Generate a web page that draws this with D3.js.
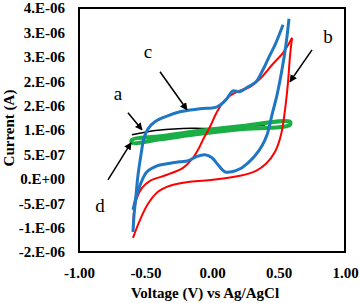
<!DOCTYPE html>
<html>
<head>
<meta charset="utf-8">
<script src="https://cdn.jsdelivr.net/npm/d3@7"></script>
<style>
  body { margin: 0; background: #fff; }
  text { font-family: "Liberation Serif", "Times New Roman", serif; }
</style>
</head>
<body>
<svg id="cv" width="359" height="303"></svg>
<script>
// current values are in microamps (1e-6 A)
const yTicks = [-1.5, -1.0, -0.5, 0, 0.5, 1.0, 1.5, 2.0, 2.5, 3.0, 3.5]
const yTickLabels = ["-2.E-06", "-1.E-06", "-5.E-07", "0.E+00", "5.E-07", "1.E-06", "2.E-06", "2.E-06", "3.E-06", "3.E-06", "4.E-06"]
const xTicks = [-1, -0.5, 0, 0.5, 1]
const xTickLabels = ["-1.00", "-0.50", "0.00", "0.50", "1.00"]

// curve c (blue) forward sweep
const cUpV = [-0.594, -0.586, -0.571, -0.556, -0.534, -0.511, -0.481, -0.429, -0.353, -0.241, -0.090, 0.038, 0.105, 0.158, 0.203, 0.271, 0.331, 0.383, 0.429, 0.474, 0.511, 0.534]
const cUpI = [-1.086, -0.738, -0.328, 0.082, 0.492, 0.840, 1.025, 1.168, 1.270, 1.373, 1.434, 1.475, 1.619, 1.803, 1.783, 1.885, 1.988, 2.234, 2.500, 2.746, 2.992, 3.156]
// curve c (blue) reverse sweep
const cDnV = [0.579, 0.556, 0.526, 0.489, 0.451, 0.414, 0.376, 0.323, 0.271, 0.211, 0.150, 0.098, 0.045, 0.000, -0.053, -0.120, -0.180, -0.241, -0.338, -0.414, -0.489, -0.534, -0.571, -0.594]
const cDnI = [3.279, 2.746, 2.234, 1.721, 1.311, 0.902, 0.676, 0.471, 0.328, 0.205, 0.143, 0.143, 0.287, 0.430, 0.492, 0.451, 0.369, 0.348, 0.307, 0.266, 0.143, -0.082, -0.389, -0.635]

// curve b (red) forward sweep
const bUpV = [-0.594, -0.586, -0.564, -0.526, -0.466, -0.338, -0.218, -0.143, -0.105, -0.068, -0.015, 0.030, 0.075, 0.135, 0.188, 0.286, 0.361, 0.459, 0.534, 0.586, 0.602]
const bUpI = [-1.086, -0.676, -0.389, -0.184, -0.041, 0.082, 0.225, 0.430, 0.594, 0.799, 1.066, 1.332, 1.537, 1.701, 1.783, 1.885, 2.049, 2.357, 2.582, 2.807, 2.889]
// curve b (red) reverse sweep
const bDnV = [0.602, 0.586, 0.571, 0.549, 0.519, 0.474, 0.406, 0.331, 0.211, 0.008, -0.165, -0.316, -0.406, -0.481, -0.541, -0.594]
const bDnI = [2.889, 2.500, 1.967, 1.414, 0.902, 0.553, 0.307, 0.164, 0.061, -0.020, -0.061, -0.143, -0.266, -0.512, -0.840, -1.209]

// curve a (black)
const aV = [-0.602, -0.504, -0.406, -0.150, 0.000, 0.211, 0.400]
const aI = [0.902, 0.953, 0.994, 1.035, 1.030, 1.050, 1.100]

// curve d (green) loop
const dV = [-0.602, -0.391, -0.090, 0.211, 0.586, 0.586, 0.211, -0.090, -0.391, -0.602]
const dI = [0.799, 0.871, 0.984, 1.076, 1.168, 1.107, 1.014, 0.922, 0.809, 0.738]

// labels and arrows [label, labelV, labelI, fromV, fromI, toV, toI]
const notes = [
  ["a", -0.707, 1.62, -0.632, 1.352, -0.526, 1.004],
  ["c", -0.481, 2.47, -0.391, 2.193, -0.188, 1.414],
  ["b", 0.872, 2.78, 0.752, 2.643, 0.586, 1.988],
  ["d", -0.842, -0.68, -0.782, -0.020, -0.609, 0.738]
]

const svg = d3.select("#cv")
const mLeft = 79, mRight = 345, mTop = 8, mBottom = 252

const x = d3.scaleLinear().domain([-1, 1]).range([mLeft, mRight])
const y = d3.scaleLinear().domain([-1.5, 3.5]).range([mBottom, mTop])

const zip = (vs, is) => vs.map((v, i) => [v, is[i]])
const line = d3.line().x(d => x(d[0])).y(d => y(d[1])).curve(d3.curveCatmullRom)
const loop = d3.line().x(d => x(d[0])).y(d => y(d[1])).curve(d3.curveCatmullRomClosed)

// axes (labels only, no tick marks)
svg.append("g")
  .attr("transform", "translate(0," + mBottom + ")")
  .call(d3.axisBottom(x).tickValues(xTicks).tickSize(0).tickPadding(15)
    .tickFormat((d, i) => xTickLabels[i]))
  .call(g => g.select(".domain").remove())
  .selectAll("text")
  .attr("font-size", 15).attr("font-weight", "bold").attr("fill", "#000")
  .attr("font-family", "Liberation Serif")

svg.append("g")
  .attr("transform", "translate(" + (mLeft - 14) + ",0)")
  .call(d3.axisLeft(y).tickValues(yTicks).tickSize(0).tickPadding(0)
    .tickFormat((d, i) => yTickLabels[i]))
  .call(g => g.select(".domain").remove())
  .selectAll("text")
  .attr("font-size", 15).attr("font-weight", "bold").attr("fill", "#000")
  .attr("font-family", "Liberation Serif")

// curves
svg.append("path").datum(zip(aV, aI)).attr("d", line)
  .attr("fill", "none").attr("stroke", "#000").attr("stroke-width", 1.5)

svg.append("path").datum(zip(dV, dI)).attr("d", loop)
  .attr("fill", "none").attr("stroke", "#1aae45").attr("stroke-width", 4)

svg.append("path").datum(zip(bUpV, bUpI)).attr("d", line)
  .attr("fill", "none").attr("stroke", "#ff0000").attr("stroke-width", 2)
svg.append("path").datum(zip(bDnV, bDnI)).attr("d", line)
  .attr("fill", "none").attr("stroke", "#ff0000").attr("stroke-width", 2)

svg.append("path").datum(zip(cUpV, cUpI)).attr("d", line)
  .attr("fill", "none").attr("stroke", "#1f77c4").attr("stroke-width", 3)
svg.append("path").datum(zip(cDnV, cDnI)).attr("d", line)
  .attr("fill", "none").attr("stroke", "#1f77c4").attr("stroke-width", 3)

// frame
svg.append("rect")
  .attr("x", mLeft).attr("y", mTop)
  .attr("width", mRight - mLeft).attr("height", mBottom - mTop)
  .attr("fill", "none").attr("stroke", "#000").attr("stroke-width", 2)

// arrow marker
svg.append("defs").append("marker")
  .attr("id", "head").attr("viewBox", "0 0 10 10")
  .attr("refX", 9).attr("refY", 5)
  .attr("markerWidth", 5).attr("markerHeight", 5)
  .attr("orient", "auto")
  .append("path").attr("d", "M0,0L10,5L0,10z").attr("fill", "#000")

notes.forEach(n => {
  svg.append("line")
    .attr("x1", x(n[3])).attr("y1", y(n[4]))
    .attr("x2", x(n[5])).attr("y2", y(n[6]))
    .attr("stroke", "#000").attr("stroke-width", 1.5)
    .attr("marker-end", "url(#head)")
  svg.append("text")
    .attr("x", x(n[1])).attr("y", y(n[2]))
    .attr("text-anchor", "middle")
    .attr("font-size", 19)
    .text(n[0])
})

// axis titles
svg.append("text")
  .attr("x", 205).attr("y", 298)
  .attr("text-anchor", "middle")
  .attr("font-size", 15).attr("font-weight", "bold")
  .text("Voltage (V) vs Ag/AgCl")

svg.append("text")
  .attr("transform", "translate(14,128) rotate(-90)")
  .attr("text-anchor", "middle")
  .attr("font-size", 15).attr("font-weight", "bold")
  .text("Current (A)")
</script>
</body>
</html>
